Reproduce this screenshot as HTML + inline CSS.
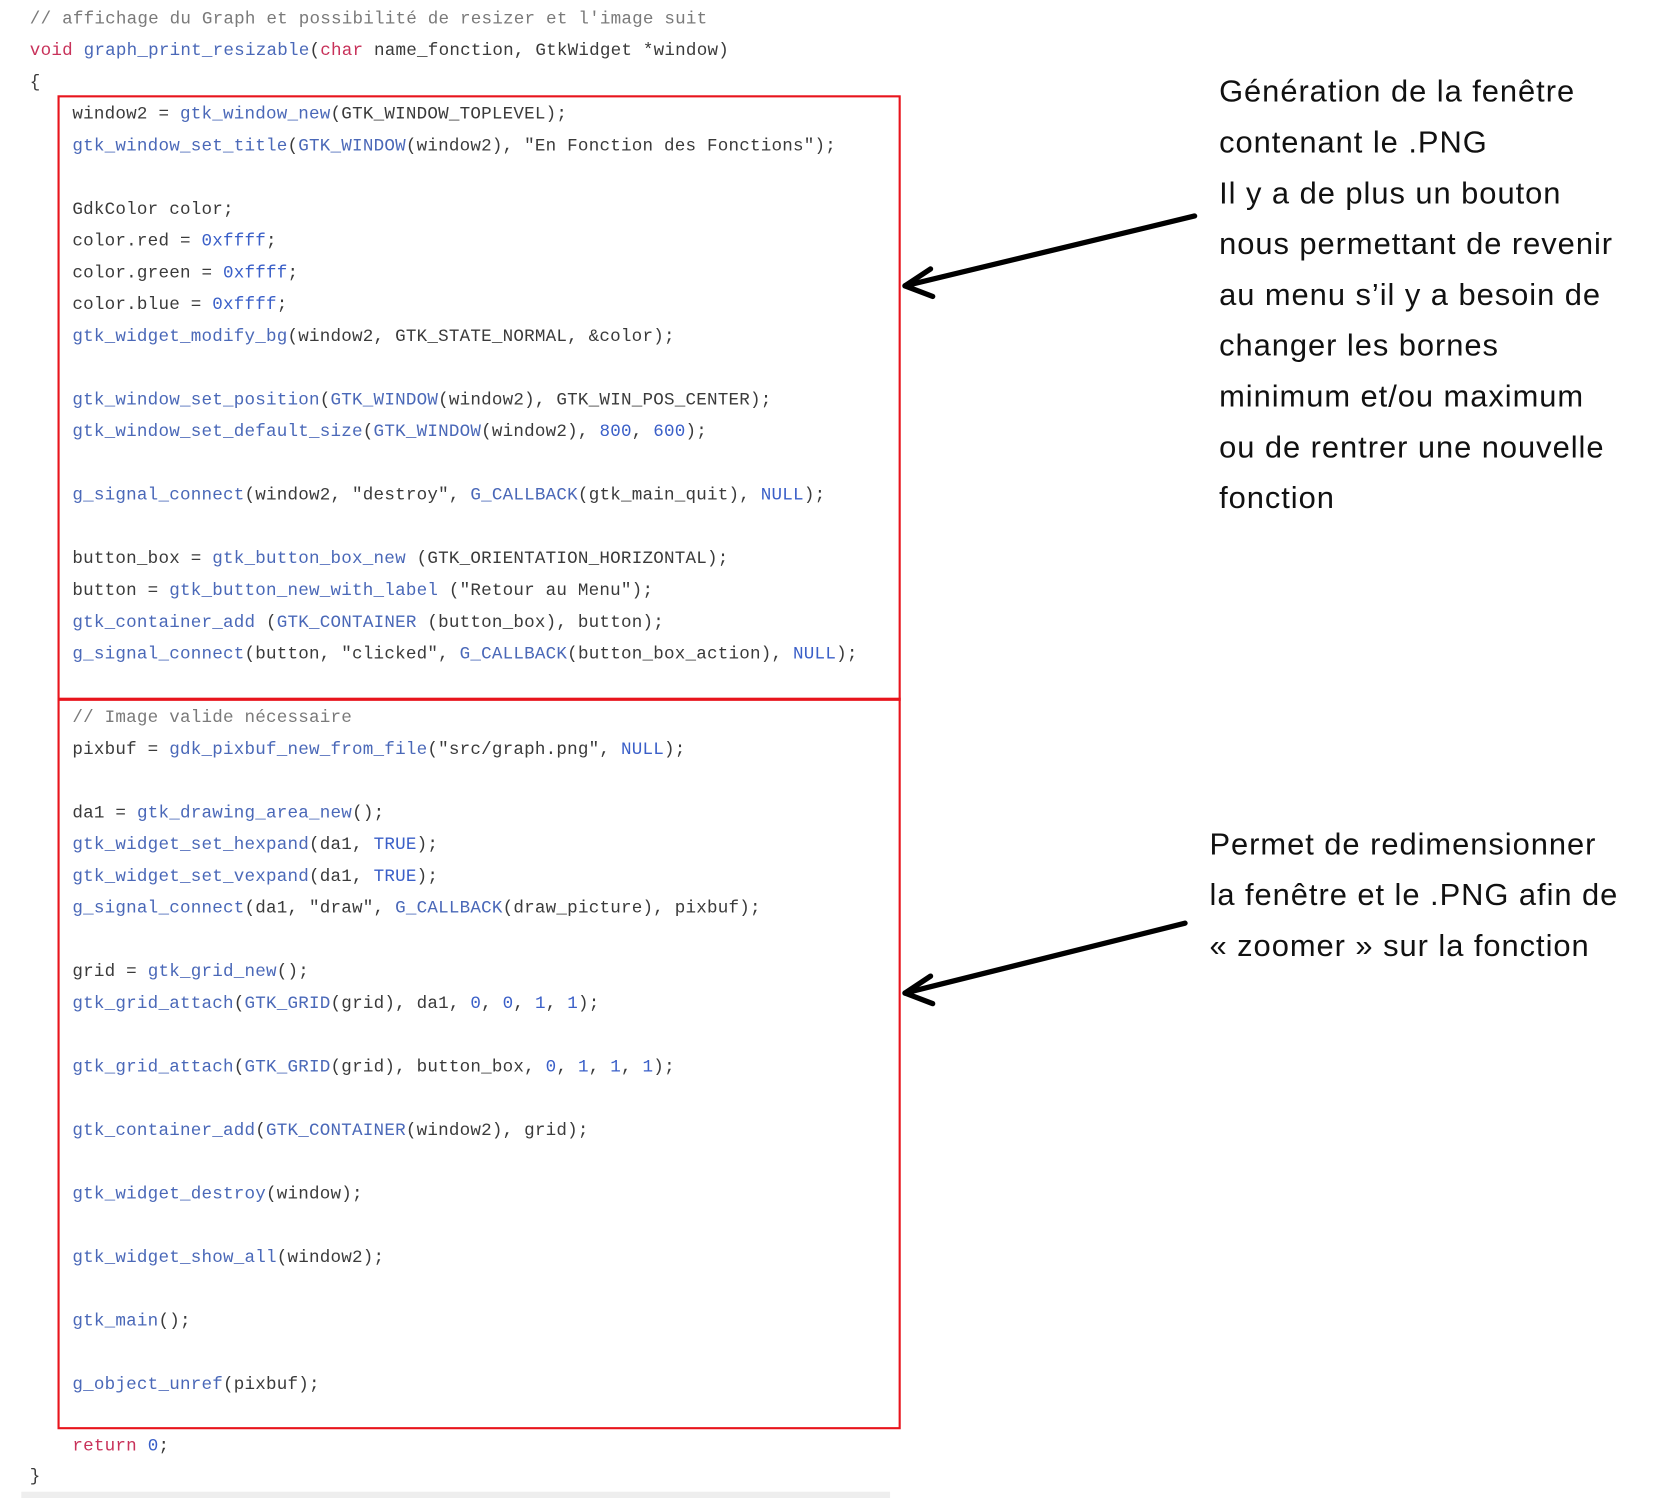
<!DOCTYPE html>
<html><head><meta charset="utf-8"><style>
html,body{margin:0;padding:0;background:#fff;}
body{width:1662px;height:1498px;overflow:hidden;position:relative;}
#c{position:absolute;left:0;top:0;width:1561px;height:1415px;transform:scale(1.0647,1.0587);transform-origin:0 0;}
.l{position:absolute;font-family:"Liberation Mono",monospace;font-size:16.5px;line-height:20px;white-space:pre;color:#3a3a3a;letter-spacing:0.2px}
.f{color:#4a68b8}.k{color:#c8325a}.cm{color:#7a7a7a}.n{color:#3a5fc8}.s{color:#3a3a3a}
.t{position:absolute;font-family:"Liberation Sans",sans-serif;font-size:29px;line-height:48px;color:#111;white-space:pre;letter-spacing:0.9px}
.box{position:absolute;border:2px solid #e8141c;box-sizing:border-box}
</style></head><body><div id="c">
<div class="box" style="left:54px;top:90px;width:792px;height:572px"></div>
<div class="box" style="left:54px;top:659px;width:792px;height:691px"></div>
<div style="position:absolute;left:20px;top:1409px;width:816px;height:6px;background:#eeeeee"></div>

<div class="l cm" style="left:28px;top:8px">// affichage du Graph et possibilité de resizer et l'image suit</div>
<div class="l" style="left:28px;top:38px"><span class="k">void</span> <span class="f">graph_print_resizable</span>(<span class="k">char</span> name_fonction, GtkWidget *window)</div>
<div class="l" style="left:28px;top:68px">{</div>
<div class="l" style="left:68px;top:98px">window2 = <span class="f">gtk_window_new</span>(GTK_WINDOW_TOPLEVEL);</div>
<div class="l" style="left:68px;top:128px"><span class="f">gtk_window_set_title</span>(<span class="f">GTK_WINDOW</span>(window2), "En Fonction des Fonctions");</div>
<div class="l" style="left:68px;top:188px">GdkColor color;</div>
<div class="l" style="left:68px;top:218px">color.red = <span class="n">0xffff</span>;</div>
<div class="l" style="left:68px;top:248px">color.green = <span class="n">0xffff</span>;</div>
<div class="l" style="left:68px;top:278px">color.blue = <span class="n">0xffff</span>;</div>
<div class="l" style="left:68px;top:308px"><span class="f">gtk_widget_modify_bg</span>(window2, GTK_STATE_NORMAL, &amp;color);</div>
<div class="l" style="left:68px;top:368px"><span class="f">gtk_window_set_position</span>(<span class="f">GTK_WINDOW</span>(window2), GTK_WIN_POS_CENTER);</div>
<div class="l" style="left:68px;top:398px"><span class="f">gtk_window_set_default_size</span>(<span class="f">GTK_WINDOW</span>(window2), <span class="n">800</span>, <span class="n">600</span>);</div>
<div class="l" style="left:68px;top:458px"><span class="f">g_signal_connect</span>(window2, "destroy", <span class="f">G_CALLBACK</span>(gtk_main_quit), <span class="n">NULL</span>);</div>
<div class="l" style="left:68px;top:518px">button_box = <span class="f">gtk_button_box_new</span> (GTK_ORIENTATION_HORIZONTAL);</div>
<div class="l" style="left:68px;top:548px">button = <span class="f">gtk_button_new_with_label</span> ("Retour au Menu");</div>
<div class="l" style="left:68px;top:578px"><span class="f">gtk_container_add</span> (<span class="f">GTK_CONTAINER</span> (button_box), button);</div>
<div class="l" style="left:68px;top:608px"><span class="f">g_signal_connect</span>(button, "clicked", <span class="f">G_CALLBACK</span>(button_box_action), <span class="n">NULL</span>);</div>
<div class="l cm" style="left:68px;top:668px">// Image valide nécessaire</div>
<div class="l" style="left:68px;top:698px">pixbuf = <span class="f">gdk_pixbuf_new_from_file</span>("src/graph.png", <span class="n">NULL</span>);</div>
<div class="l" style="left:68px;top:758px">da1 = <span class="f">gtk_drawing_area_new</span>();</div>
<div class="l" style="left:68px;top:788px"><span class="f">gtk_widget_set_hexpand</span>(da1, <span class="n">TRUE</span>);</div>
<div class="l" style="left:68px;top:818px"><span class="f">gtk_widget_set_vexpand</span>(da1, <span class="n">TRUE</span>);</div>
<div class="l" style="left:68px;top:848px"><span class="f">g_signal_connect</span>(da1, "draw", <span class="f">G_CALLBACK</span>(draw_picture), pixbuf);</div>
<div class="l" style="left:68px;top:908px">grid = <span class="f">gtk_grid_new</span>();</div>
<div class="l" style="left:68px;top:938px"><span class="f">gtk_grid_attach</span>(<span class="f">GTK_GRID</span>(grid), da1, <span class="n">0</span>, <span class="n">0</span>, <span class="n">1</span>, <span class="n">1</span>);</div>
<div class="l" style="left:68px;top:998px"><span class="f">gtk_grid_attach</span>(<span class="f">GTK_GRID</span>(grid), button_box, <span class="n">0</span>, <span class="n">1</span>, <span class="n">1</span>, <span class="n">1</span>);</div>
<div class="l" style="left:68px;top:1058px"><span class="f">gtk_container_add</span>(<span class="f">GTK_CONTAINER</span>(window2), grid);</div>
<div class="l" style="left:68px;top:1118px"><span class="f">gtk_widget_destroy</span>(window);</div>
<div class="l" style="left:68px;top:1178px"><span class="f">gtk_widget_show_all</span>(window2);</div>
<div class="l" style="left:68px;top:1238px"><span class="f">gtk_main</span>();</div>
<div class="l" style="left:68px;top:1298px"><span class="f">g_object_unref</span>(pixbuf);</div>
<div class="l" style="left:68px;top:1356px"><span class="k">return</span> <span class="n">0</span>;</div>
<div class="l" style="left:28px;top:1385px">}</div>

<div class="t" style="left:1145px;top:63px">Génération de la fenêtre
contenant le .PNG
Il y a de plus un bouton
nous permettant de revenir
au menu s’il y a besoin de
changer les bornes
minimum et/ou maximum
ou de rentrer une nouvelle
fonction</div>
<div class="t" style="left:1136px;top:774px">Permet de redimensionner
la fenêtre et le .PNG afin de
« zoomer » sur la fonction</div>

<svg style="position:absolute;left:0;top:0" width="1561" height="1415">
<g stroke="#000" stroke-width="5" fill="none" stroke-linecap="round" stroke-linejoin="round">
<line x1="1122" y1="204" x2="850" y2="270"/>
<polyline points="874,254 850,270 876,280"/>
<line x1="1113" y1="872" x2="850" y2="938"/>
<polyline points="874,922 850,938 876,948"/>
</g></svg>
</div></body></html>
